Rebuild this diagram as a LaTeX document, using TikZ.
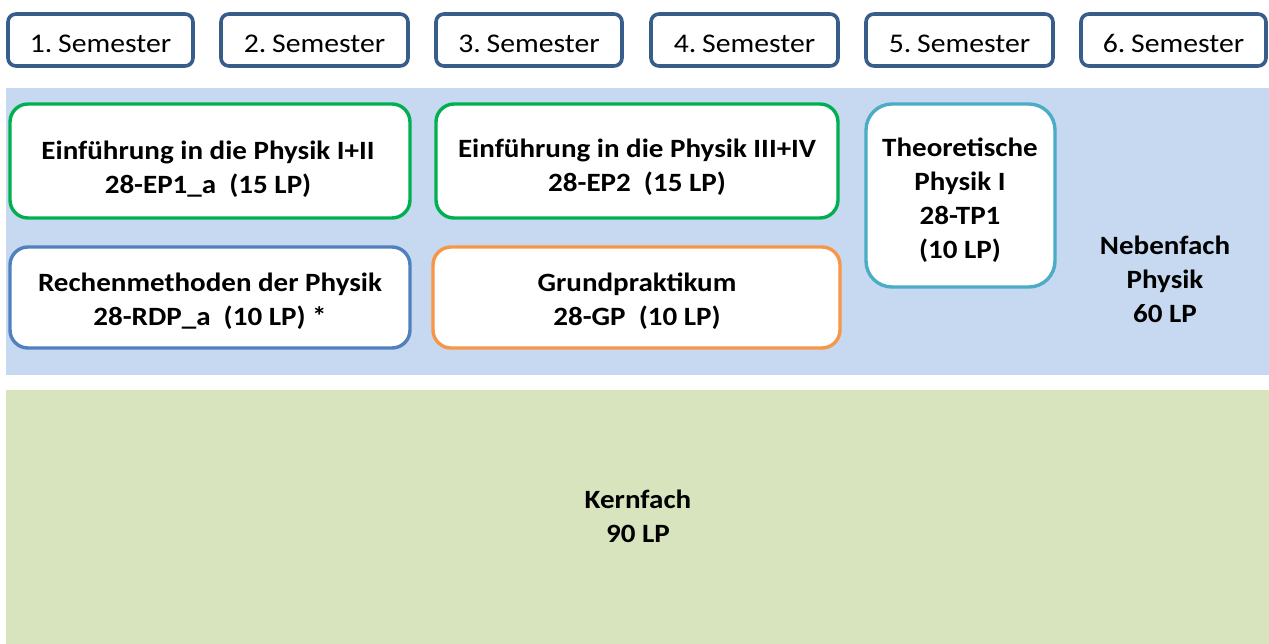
\documentclass[tikz,border=0pt]{standalone}
\usepackage{fontspec}
\setmainfont{Carlito}[FakeStretch=1.1]
\definecolor{semblue}{RGB}{56,93,138}
\definecolor{bandblue}{RGB}{198,217,241}
\definecolor{bandgreen}{RGB}{215,228,189}
\definecolor{epgreen}{RGB}{0,176,80}
\definecolor{rdpblue}{RGB}{79,129,189}
\definecolor{gporange}{RGB}{247,150,70}
\definecolor{tpteal}{RGB}{75,172,198}
\begin{document}
\begin{tikzpicture}[x=1pt,y=-1pt,
  sem/.style={draw=semblue,line width=3.6pt,rounded corners=8pt,fill=white,inner sep=0pt},
  mod/.style={line width=3.4pt,rounded corners=18pt,fill=white,inner sep=0pt},
  semtext/.style={font=\fontsize{27}{30}\selectfont,anchor=base,inner sep=0pt},
  modtext/.style={font=\bfseries\fontsize{26.4}{34}\selectfont,align=center,inner sep=0pt}]
\useasboundingbox (0,0) rectangle (1269,644);
% bands
\fill[bandblue] (6,88) rectangle (1269,375);
\fill[bandgreen] (6,390) rectangle (1269,644);
% semester boxes
\foreach \i/\xa/\xb in {1/8/193,2/221/408,3/436/622,4/651/838,5/866/1053,6/1081/1266}{
  \draw[sem] (\xa,14) rectangle (\xb,66);
  \node[semtext] (s\i) at ({(\xa+\xb)/2},53) {\i.\kern-1pt\ Semester};
}
% modules
\draw[mod,draw=epgreen] (10,104) rectangle (410,218);
\node[modtext] (ep1) at (208,169) {Einführung in die Physik I+II\\28-EP1\_a\ \ (15 LP)};
\draw[mod,draw=epgreen] (436,104) rectangle (838,218);
\node[modtext] (ep2) at (637,167) {Einführung in die Physik III+IV\\28-EP2\ \ (15 LP)};
\draw[mod,draw=rdpblue] (10,247) rectangle (410,348);
\node[modtext] (rdp) at (210,301.5) {Rechenmethoden der Physik\\28-RDP\_a\ \ (10 LP) *};
\draw[mod,draw=gporange] (433,247) rectangle (840,348);
\node[modtext] (gp) at (637,301.5) {Grundpraktikum\\28-GP\ \ (10 LP)};
\draw[mod,draw=tpteal,rounded corners=26pt] (866,104) rectangle (1055,287);
\node[modtext] (tp1) at (960,200) {Theoretische\\Physik I\\28-TP1\\(10 LP)};
\node[modtext] (neben) at (1165,279) {Nebenfach\\Physik\\60 LP};
\node[modtext] (kern) at (638,516) {Kernfach\\90 LP};
\end{tikzpicture}
\end{document}
